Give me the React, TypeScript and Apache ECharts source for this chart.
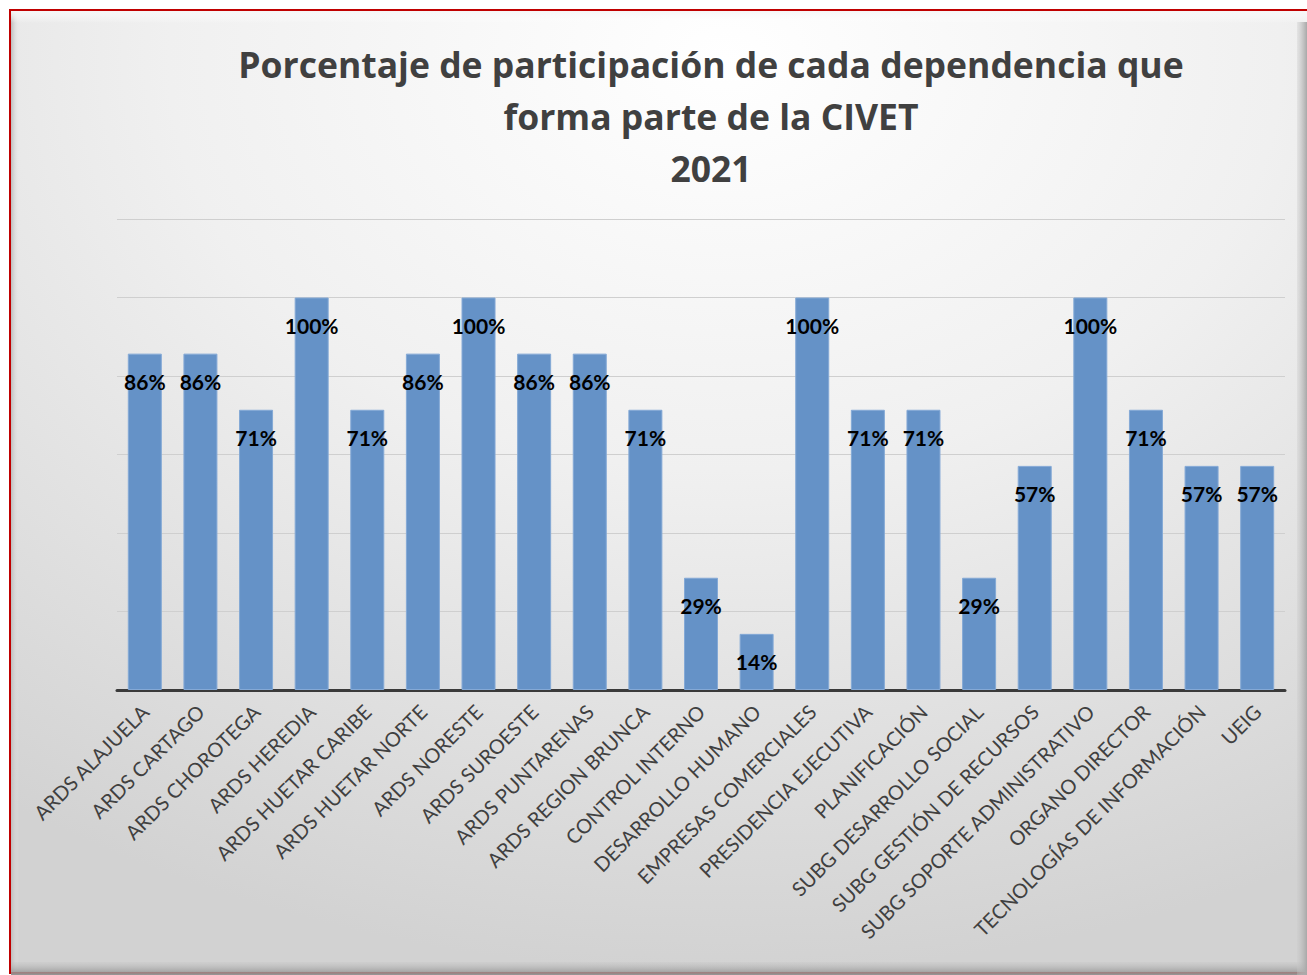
import React, { useEffect, useRef } from "react";
import * as echarts from "echarts";

const categories = [
  "ARDS ALAJUELA",
  "ARDS CARTAGO",
  "ARDS CHOROTEGA",
  "ARDS HEREDIA",
  "ARDS HUETAR CARIBE",
  "ARDS HUETAR NORTE",
  "ARDS NORESTE",
  "ARDS SUROESTE",
  "ARDS PUNTARENAS",
  "ARDS REGION BRUNCA",
  "CONTROL INTERNO",
  "DESARROLLO HUMANO",
  "EMPRESAS COMERCIALES",
  "PRESIDENCIA EJECUTIVA",
  "PLANIFICACIÓN",
  "SUBG DESARROLLO SOCIAL",
  "SUBG GESTIÓN DE RECURSOS",
  "SUBG SOPORTE ADMINISTRATIVO",
  "ORGANO DIRECTOR",
  "TECNOLOGÍAS DE INFORMACIÓN",
  "UEIG",
];

const values = [
  0.857, 0.857, 0.714, 1.0, 0.714, 0.857, 1.0, 0.857, 0.857, 0.714, 0.286,
  0.143, 1.0, 0.714, 0.714, 0.286, 0.571, 1.0, 0.714, 0.571, 0.571,
];

const titleLines = [
  "Porcentaje de participación de cada dependencia que",
  "forma parte de la CIVET",
  "2021",
];

const yTicks = { min: 0, max: 1.2, interval: 0.2 };

export default function App() {
  const ref = useRef<HTMLDivElement>(null);
  useEffect(() => {
    if (!ref.current) return;
    const chart = echarts.init(ref.current, undefined, { renderer: "svg" });
    chart.setOption({
      animation: false,
      backgroundColor: "#ffffff",
      graphic: [
        {
          type: "rect",
          z: -10,
          silent: true,
          shape: { x: 10, y: 10, width: 1300, height: 963 },
          style: {
            fill: new echarts.graphic.RadialGradient(0.55, 0.05, 0.95, [
              { offset: 0, color: "#ffffff" },
              { offset: 0.45, color: "#f0f0f0" },
              { offset: 1, color: "#d2d2d2" },
            ]),
            stroke: "#c00000",
            lineWidth: 2,
          },
        },
        {
          type: "rect",
          z: -9,
          silent: true,
          shape: { x: 11, y: 11, width: 8, height: 960 },
          style: {
            fill: new echarts.graphic.LinearGradient(0, 0, 1, 0, [
              { offset: 0, color: "#bdbdbd" },
              { offset: 1, color: "rgba(230,230,230,0)" },
            ]),
          },
        },
        {
          type: "rect",
          z: -9,
          silent: true,
          shape: { x: 11, y: 11, width: 1296, height: 12 },
          style: {
            fill: new echarts.graphic.LinearGradient(0, 0, 0, 1, [
              { offset: 0, color: "#f6f6f6" },
              { offset: 1, color: "rgba(255,255,255,0)" },
            ]),
          },
        },
        {
          type: "rect",
          z: -9,
          silent: true,
          shape: { x: 11, y: 962, width: 1296, height: 13 },
          style: {
            fill: new echarts.graphic.LinearGradient(0, 0, 0, 1, [
              { offset: 0, color: "rgba(190,190,190,0.2)" },
              { offset: 1, color: "#8f8f8f" },
            ]),
          },
        },
        {
          type: "rect",
          z: -9,
          silent: true,
          shape: { x: 1297, y: 22, width: 10, height: 953 },
          style: {
            fill: new echarts.graphic.LinearGradient(0, 0, 1, 0, [
              { offset: 0, color: "rgba(200,200,200,0.3)" },
              { offset: 1, color: "#a8a8a8" },
            ]),
          },
        },
      ],
      title: {
        text: titleLines.join("\n"),
        left: 706,
        top: 33,
        textAlign: "center",
        textStyle: {
          fontFamily: "Open Sans",
          fontWeight: "bold",
          fontSize: 35.5,
          lineHeight: 52,
          color: "#404040",
        },
      },
      grid: { left: 117, right: 22, top: 219, bottom: 285 },
      xAxis: {
        type: "category",
        data: categories,
        axisLine: { lineStyle: { color: "#3a3a3a", width: 3 } },
        axisTick: { show: false },
        axisLabel: {
          interval: 0,
          rotate: 45,
          margin: 18,
          fontFamily: "Lato",
          fontSize: 20,
          color: "#404040",
        },
      },
      yAxis: {
        type: "value",
        min: yTicks.min,
        max: yTicks.max,
        interval: yTicks.interval,
        axisLabel: { show: false },
        axisLine: { show: false },
        axisTick: { show: false },
        splitLine: { lineStyle: { color: "#cfcfcf", width: 1 } },
      },
      series: [
        {
          type: "bar",
          data: values,
          barWidth: 34,
          itemStyle: { color: "#6592c7", borderColor: "#84a9d6", borderWidth: 1 },
          label: {
            show: true,
            position: "insideTop",
            distance: 17,
            formatter: (p: any) => Math.round(p.value * 100) + "%",
            fontFamily: "Lato",
            fontWeight: "bold",
            fontSize: 21,
            color: "#000000",
          },
        },
      ],
    });
    return () => chart.dispose();
  }, []);
  return (
    <div
      ref={ref}
      style={{ position: "absolute", left: 0, top: 0, width: 1307, height: 975 }}
    />
  );
}
